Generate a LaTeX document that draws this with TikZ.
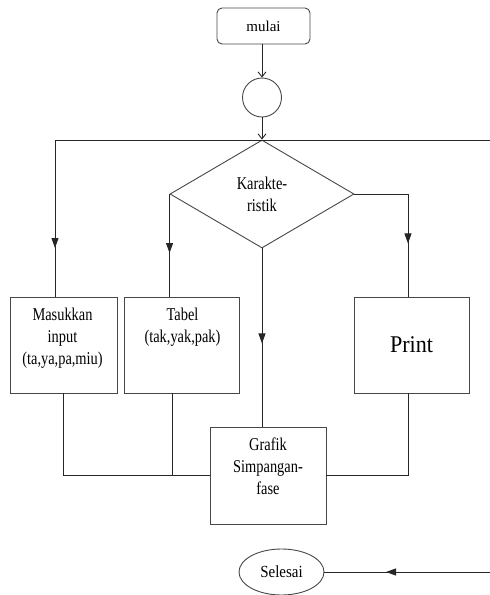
\documentclass[tikz,border=0pt]{standalone}
\usepackage{fontspec}
\setmainfont{Liberation Serif}
\newfontfamily\condfont[FakeStretch=0.8]{Liberation Serif}
\newfontfamily\printfont[FakeStretch=0.92]{Liberation Serif}
\newfontfamily\selfont[FakeStretch=0.88]{Liberation Serif}
\usetikzlibrary{shapes.geometric,arrows.meta,decorations.markings}
\begin{document}
\begin{tikzpicture}[x=1pt,y=-1pt,
  conn/.style={draw=black!85, line width=0.9pt},
  box/.style={draw=black!72, line width=0.9pt, rectangle, inner sep=0pt},
  ctext/.style={font=\condfont\fontsize{18}{22}\selectfont, align=center, inner sep=0pt, anchor=north},
  midarr/.style={postaction={decorate}, decoration={markings, mark=at position #1 with {\arrow{Triangle[length=10pt,width=7pt]}}}},
  barb/.style={-{Straight Barb[length=5pt,width=8pt]}}
]
\useasboundingbox (0,0) rectangle (490,595);

% nodes
\node[box, rounded corners=5pt, minimum width=93pt, minimum height=36pt,
      font=\fontsize{15}{18}\selectfont] (mulai) at (263.5,26) {mulai};
\node[box, circle, minimum size=39pt] (circ) at (262,97.5) {};
\node[box, diamond, minimum width=184pt, minimum height=108pt,
      font=\condfont\fontsize{18}{22}\selectfont, align=center] (dia) at (262,194) {Karakte-\\ristik};
\node[box, minimum width=107pt, minimum height=96pt] (masuk) at (63.5,345) {};
\node[box, minimum width=115pt, minimum height=96pt] (tabel) at (181.5,345) {};
\node[box, minimum width=115pt, minimum height=96pt,
      font=\printfont\fontsize{24}{28}\selectfont] (print) at (411.5,345) {Print};
\node[box, minimum width=116pt, minimum height=97pt] (grafik) at (268,475.5) {};
\node[box, ellipse, minimum width=85pt, minimum height=46pt,
      font=\selfont\fontsize{17}{20}\selectfont] (sel) at (281.5,572) {Selesai};

\node[ctext] (masukt) at (62.5,307.7) {Masukkan\\input\\(ta,ya,pa,miu)};
\node[ctext] (tabelt) at (182.5,307.7) {Tabel\\(tak,yak,pak)};
\node[ctext] (grafikt) at (268,437.7) {Grafik\\Simpangan-\\fase};

% coordinates
\coordinate (tr) at (490,140);
\coordinate (tl) at (55,140);
\coordinate (pr) at (408,194);
\coordinate (tbx) at (172,0);
\coordinate (sr) at (490,572);

% connectors
\draw[conn, barb] (mulai.south -| circ) -- (circ.north);
\draw[conn, barb] (circ.south) -- (dia.north);
\draw[conn] (tr) -- (tl);
\draw[conn, midarr=108pt] (tl) -- (tl |- masuk.north);
\draw[conn, midarr=59pt] (dia.west) -- (dia.west |- tabel.north);
\draw[conn, midarr=103pt] (dia.east) -- (pr) -- (pr |- print.north);
\draw[conn, midarr=95pt] (dia.south) -- (dia.south |- grafik.north);
\draw[conn] (masuk.south) |- (grafik.west);
\draw[conn] (tabel.south -| tbx) -- (tbx |- grafik.west);
\draw[conn] (print.south -| pr) |- (grafik.east);
\draw[conn, midarr=104pt] (sr) -- (sel.east);
\end{tikzpicture}
\end{document}
